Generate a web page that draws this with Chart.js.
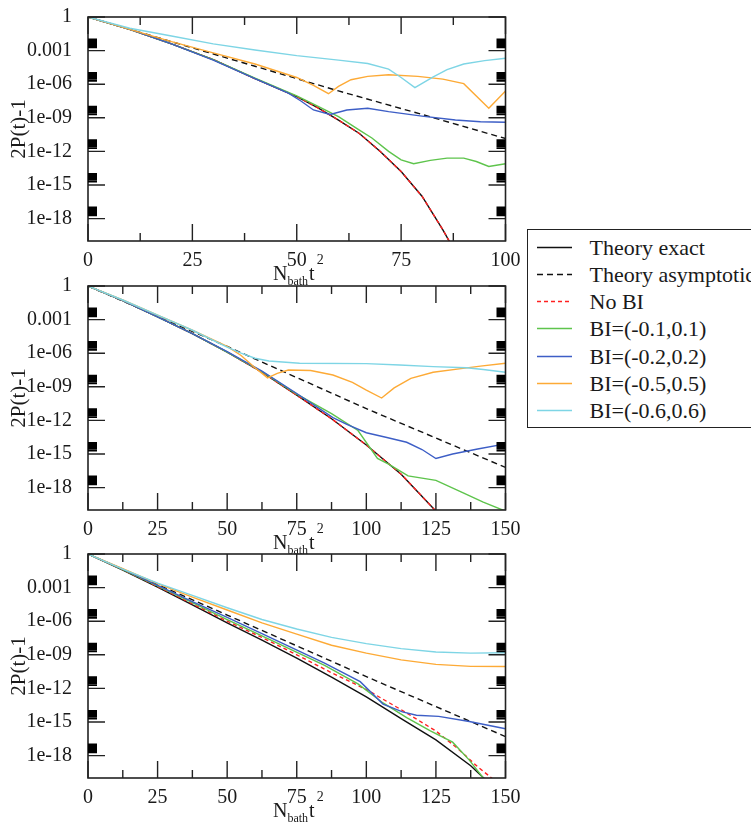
<!DOCTYPE html>
<html><head><meta charset="utf-8">
<script src="https://cdn.jsdelivr.net/npm/chart.js@4.4.0/dist/chart.umd.min.js"></script>
<style>
html,body{margin:0;padding:0;background:#fff;width:751px;height:822px;overflow:hidden;position:relative;}
canvas{position:absolute;left:0;}
#legend{position:absolute;left:527px;top:229px;width:240px;height:199px;border:1.5px solid #222;background:#fff;box-sizing:border-box;}
.row{position:absolute;left:0;height:27px;width:238px;}
.row svg{position:absolute;left:8.5px;top:0;}
.row span{position:absolute;left:61.5px;top:0;font-family:"Liberation Serif","Times New Roman",Times,serif;font-size:22px;line-height:27px;color:#1a1a1a;white-space:nowrap;}
</style></head>
<body>
<canvas id="c1" width="530" height="286" style="top:5px"></canvas>
<canvas id="c2" width="530" height="286" style="top:273.7px"></canvas>
<canvas id="c3" width="530" height="286" style="top:542px"></canvas>
<div id="legend"></div>
<script>
// ---------- data ----------
const SERIES_NAMES = ['Theory exact','Theory asymptotic','No BI','BI=(-0.1,0.1)','BI=(-0.2,0.2)','BI=(-0.5,0.5)','BI=(-0.6,0.6)'];
const Y_TICK_VALUES = [1e-18,1e-15,1e-12,1e-9,1e-6,1e-3,1];
const Y_TICK_LABELS = ['1e-18','1e-15','1e-12','1e-09','1e-06','0.001','1'];
const X_MAX = [100,150,150];

// panel 1
const P1_X_EXACT = [0,10,20,30,40,50,55,60,65,70,75,80,85,88];
const P1_Y_EXACT = [1,7.94e-2,3.98e-3,1.58e-4,3.16e-6,7.94e-8,7.94e-9,6.31e-10,3.98e-11,1e-12,1.58e-14,1e-16,1e-19,1e-21];
const P1_X_ASYM = [0,20,40,60,80,100];
const P1_Y_ASYM = [1,6.31e-3,3.98e-5,2.51e-7,2.0e-9,1.41e-11];
const P1_X_NOBI = [0,10,20,30,40,50,55,60,65,70,75,80,85,88];
const P1_Y_NOBI = [1,7.94e-2,3.98e-3,1.58e-4,3.16e-6,7.94e-8,7.94e-9,6.31e-10,3.98e-11,1e-12,1.58e-14,1e-16,1e-19,1e-21];
const P1_X_G = [0,10,20,30,40,50,55,60,65,68,72,75,78,82,86,90,93,96,100];
const P1_Y_G = [1,7.94e-2,3.98e-3,1.58e-4,3.55e-6,8.91e-8,1.12e-8,1.26e-9,7.94e-11,1.58e-11,1e-12,1.78e-13,7.94e-14,1.58e-13,2.51e-13,2.51e-13,1.26e-13,4.47e-14,7.94e-14];
const P1_X_B = [0,10,20,30,40,48,51,54,58,62,67,72,80,88,94,100];
const P1_Y_B = [1,7.94e-2,3.98e-3,1.41e-4,3.16e-6,1.58e-7,3.16e-8,5.01e-9,2.0e-9,5.01e-9,7.08e-9,3.55e-9,1.41e-9,6.31e-10,4.47e-10,3.98e-10];
const P1_X_O = [0,10,20,30,40,50,54,57.6,60,63,67,72,79,85,90,96,100];
const P1_Y_O = [1,7.94e-2,6.31e-3,6.31e-4,6.31e-5,3.98e-6,7.94e-7,1.41e-7,6.31e-7,2.51e-6,5.01e-6,7.08e-6,5.01e-6,2.82e-6,1.12e-6,7.08e-9,2.51e-7];
const P1_X_C = [0,10,20,30,40,50,60,67,72,75,78.3,82.7,86,90,95,100];
const P1_Y_C = [1,0.1,2.0e-2,3.98e-3,1.12e-3,3.55e-4,1.41e-4,7.08e-5,2.24e-5,3.98e-6,5.01e-7,4.47e-6,2.0e-5,6.31e-5,1.26e-4,2.09e-4];

// panel 2
const P2_X_EXACT = [0,12.5,25,37.5,50,62.5,75,87.5,100,112.5,125,130];
const P2_Y_EXACT = [1,5.01e-2,1.78e-3,5.62e-5,1.26e-6,2.0e-8,1.78e-10,1.41e-12,6.31e-15,1.58e-17,7.94e-21,3.16e-22];
const P2_X_ASYM = [0,50,100,150];
const P2_Y_ASYM = [1,3.98e-6,1.12e-11,6.31e-17];
const P2_X_NOBI = [0,12.5,25,37.5,50,62.5,75,87.5,100,112.5,125,130];
const P2_Y_NOBI = [1,5.01e-2,1.78e-3,5.62e-5,1.26e-6,2.0e-8,1.78e-10,1.41e-12,6.31e-15,1.58e-17,7.94e-21,3.16e-22];
const P2_X_G = [0,12.5,25,37.5,50,62.5,75,87.5,97,104,108,115,125,135,142,150];
const P2_Y_G = [1,5.01e-2,1.78e-3,5.62e-5,1.26e-6,2.24e-8,2.24e-10,3.98e-12,1.26e-13,3.98e-16,1.26e-16,1.12e-17,4.47e-18,3.16e-19,5.01e-20,7.94e-21];
const P2_X_B = [0,12.5,25,37.5,50,62.5,75,88,93,100,107,114.5,120,125,131,140,150];
const P2_Y_B = [1,5.01e-2,1.78e-3,5.62e-5,1.41e-6,2.51e-8,2.51e-10,1.78e-12,4.47e-13,7.94e-14,3.16e-14,1.12e-14,2.51e-15,3.98e-16,1e-15,2.82e-15,7.94e-15];
const P2_X_O = [0,12.5,25,37.5,50,55,60,64.5,68,72,80,88,95,100,105.5,110,116,124,134,141,150];
const P2_Y_O = [1,5.62e-2,2.51e-3,1.12e-4,3.98e-6,6.31e-7,5.01e-8,6.31e-9,1.58e-8,3.16e-8,2.82e-8,1.12e-8,2.51e-9,5.01e-10,1e-10,7.94e-10,5.62e-9,2.0e-8,4.17e-8,7.08e-8,1.26e-7];
const P2_X_C = [0,12.5,25,37.5,50,55,60,65,76,100,112,124,136,142,150];
const P2_Y_C = [1,5.62e-2,2.51e-3,1.12e-4,3.55e-6,1e-6,3.55e-7,2.0e-7,1.26e-7,1.17e-7,8.91e-8,6.31e-8,5.01e-8,3.55e-8,2.0e-8];

// panel 3
const P3_X_EXACT = [0,12.5,25,37.5,50,62.5,75,87.5,100,112.5,125,137.5,143,147];
const P3_Y_EXACT = [1,3.55e-2,1.12e-3,2.82e-5,7.08e-7,2.0e-8,5.01e-10,1e-11,1.78e-13,2.0e-15,2.51e-17,1.26e-19,6.31e-21,1e-21];
const P3_X_ASYM = [0,50,100,150];
const P3_Y_ASYM = [1,3.55e-6,1.12e-11,5.01e-17];
const P3_X_NOBI = [0,12.5,25,37.5,50,62.5,75,87.5,100,112.5,125,133,140,146,150];
const P3_Y_NOBI = [1,3.98e-2,1.26e-3,3.55e-5,1e-6,3.55e-8,1e-9,2.51e-11,7.94e-13,1.26e-14,1.58e-16,3.98e-18,1e-19,6.31e-21,1e-21];
const P3_X_G = [0,12.5,25,37.5,50,62.5,72.6,85,97,106,114.5,123,131,137,142,145];
const P3_Y_G = [1,3.98e-2,1.41e-3,4.47e-5,1.41e-6,5.01e-8,3.16e-9,1.12e-10,2.51e-12,5.01e-14,2.51e-15,1.58e-16,1.58e-17,3.98e-19,1e-20,1e-21];
const P3_X_B = [0,12.5,25,37.5,50,62.5,72.6,85,97.8,106,113,118,126,137,150];
const P3_Y_B = [1,4.47e-2,1.58e-3,5.62e-5,2.24e-6,7.94e-8,5.01e-9,1.78e-10,3.98e-12,3.98e-14,7.94e-15,3.98e-15,3.16e-15,1.12e-15,2.51e-16];
const P3_X_O = [0,12.5,25,37.5,50,62.5,75,87.5,100,112.5,125,137.5,150];
const P3_Y_O = [1,5.01e-2,2.24e-3,1.41e-4,1e-5,7.08e-7,7.08e-8,7.08e-9,1.41e-9,3.55e-10,1.41e-10,9.33e-11,8.91e-11];
const P3_X_C = [0,12.5,25,37.5,50,62.5,75,87.5,100,112.5,125,137.5,150];
const P3_Y_C = [1,4.47e-2,2.51e-3,2.0e-4,1.58e-5,1.41e-6,2.0e-7,3.55e-8,1e-8,3.55e-9,1.78e-9,1.41e-9,1.51e-9];

// ---------- styling ----------
const STYLES = [
  {color:'#111111', dash:[], order:7},
  {color:'#111111', dash:[6,4], order:6},
  {color:'#ff2020', dash:[4,3], order:5},
  {color:'#5ec44c', dash:[], order:4},
  {color:'#3d5ec6', dash:[], order:3},
  {color:'#fdaa36', dash:[], order:2},
  {color:'#7ed5e5', dash:[], order:1}
];
const FONT = '"Liberation Serif", "Times New Roman", Times, serif';
const MINOR_MULTS = [2,3,4,5,6,7,8,9,10];

function pts(xs, ys){ return xs.map((x,i)=>({x:x, y:ys[i]})); }

const framePlugin = {
  id:'frame',
  afterDraw(chart){
    const ctx = chart.ctx, a = chart.chartArea, xs = chart.scales.x, ys = chart.scales.y;
    ctx.save();
    ctx.strokeStyle = '#222';
    ctx.lineWidth = 1.6;
    ctx.strokeRect(a.left, a.top, a.right-a.left, a.bottom-a.top);
    const xt = xs.ticks.map(t=>t.value);
    ctx.lineWidth = 1.4;
    ctx.beginPath();
    xt.forEach((v,i)=>{
      const px = xs.getPixelForValue(v);
      ctx.moveTo(px, a.bottom); ctx.lineTo(px, a.bottom-17);
      ctx.moveTo(px, a.top); ctx.lineTo(px, a.top+17);
      if (i < xt.length-1){
        const pm = xs.getPixelForValue((v+xt[i+1])/2);
        ctx.moveTo(pm, a.bottom); ctx.lineTo(pm, a.bottom-8);
        ctx.moveTo(pm, a.top); ctx.lineTo(pm, a.top+8);
      }
    });
    ys.ticks.forEach(t=>{
      const py = ys.getPixelForValue(t.value);
      ctx.moveTo(a.left, py); ctx.lineTo(a.left+17, py);
      ctx.moveTo(a.right, py); ctx.lineTo(a.right-17, py);
    });
    ctx.stroke();
    ctx.lineWidth = 1.8;
    ctx.strokeStyle = '#000';
    ctx.beginPath();
    ys.ticks.forEach(t=>{
      MINOR_MULTS.forEach(m=>{
        const v = t.value*m;
        if (v >= ys.max) return;
        const py = ys.getPixelForValue(v);
        ctx.moveTo(a.left, py); ctx.lineTo(a.left+9, py);
        ctx.moveTo(a.right, py); ctx.lineTo(a.right-9, py);
      });
    });
    ctx.stroke();
    ctx.fillStyle = '#1a1a1a';
    ctx.save();
    ctx.translate(19, (a.top+a.bottom)/2);
    ctx.rotate(-Math.PI/2);
    ctx.textAlign = 'center'; ctx.textBaseline = 'middle';
    ctx.font = '21px ' + FONT;
    ctx.fillText('2P(t)-1', 0, 0);
    ctx.restore();
    ctx.textAlign = 'left'; ctx.textBaseline = 'alphabetic';
    let x0 = 273;
    ctx.font = '20px ' + FONT;
    ctx.fillText('N', x0, a.bottom+39); x0 += ctx.measureText('N').width;
    ctx.font = '12px ' + FONT;
    ctx.fillText('bath', x0, a.bottom+44); x0 += ctx.measureText('bath').width + 1;
    ctx.font = '20px ' + FONT;
    ctx.fillText('t', x0, a.bottom+39); x0 += ctx.measureText('t').width + 2;
    ctx.font = '14px ' + FONT;
    ctx.fillText('2', x0, a.bottom+23);
    ctx.restore();
  }
};

function makeChart(id, xMax, series){
  const datasets = series.map((s,i)=>({
    label: SERIES_NAMES[i],
    data: pts(s[0], s[1]),
    borderColor: STYLES[i].color,
    borderDash: STYLES[i].dash,
    borderWidth: 1.4,
    order: STYLES[i].order,
    pointRadius: 0,
    tension: 0,
    fill: false
  }));
  return new Chart(document.getElementById(id), {
    type:'line',
    data:{datasets},
    options:{
      responsive:false, animation:false, devicePixelRatio:1,
      layout:{padding:{top:12, right:24.5, left:0, bottom:0}},
      plugins:{legend:{display:false}, tooltip:{enabled:false}},
      scales:{
        x:{type:'linear', min:0, max:xMax,
          grid:{display:false}, border:{display:false},
          ticks:{stepSize:25, autoSkip:false, maxRotation:0, padding:0, color:'#1a1a1a', font:{family:FONT, size:20}},
          afterFit(s){ s.height = 50; s.paddingLeft = 0; s.paddingRight = 0; }
        },
        y:{type:'logarithmic', min:1e-20, max:1,
          grid:{display:false}, border:{display:false},
          afterBuildTicks(s){ s.ticks = Y_TICK_VALUES.map(v=>({value:v})); },
          ticks:{padding:8, color:'#1a1a1a', font:{family:FONT, size:20},
            callback:(v,i)=>Y_TICK_LABELS[i]},
          afterFit(s){ s.width = 88; s.paddingTop = 0; s.paddingBottom = 0; }
        }
      }
    },
    plugins:[framePlugin]
  });
}

makeChart('c1', X_MAX[0], [[P1_X_EXACT,P1_Y_EXACT],[P1_X_ASYM,P1_Y_ASYM],[P1_X_NOBI,P1_Y_NOBI],[P1_X_G,P1_Y_G],[P1_X_B,P1_Y_B],[P1_X_O,P1_Y_O],[P1_X_C,P1_Y_C]]);
makeChart('c2', X_MAX[1], [[P2_X_EXACT,P2_Y_EXACT],[P2_X_ASYM,P2_Y_ASYM],[P2_X_NOBI,P2_Y_NOBI],[P2_X_G,P2_Y_G],[P2_X_B,P2_Y_B],[P2_X_O,P2_Y_O],[P2_X_C,P2_Y_C]]);
makeChart('c3', X_MAX[2], [[P3_X_EXACT,P3_Y_EXACT],[P3_X_ASYM,P3_Y_ASYM],[P3_X_NOBI,P3_Y_NOBI],[P3_X_G,P3_Y_G],[P3_X_B,P3_Y_B],[P3_X_O,P3_Y_O],[P3_X_C,P3_Y_C]]);

const legend = document.getElementById('legend');
SERIES_NAMES.forEach((name,i)=>{
  const row = document.createElement('div');
  row.className = 'row';
  row.style.top = (3.5 + 27.3*i) + 'px';
  const dash = STYLES[i].dash.length ? ' stroke-dasharray="'+STYLES[i].dash.join(',')+'"' : '';
  row.innerHTML = '<svg width="36" height="27"><line x1="0" y1="13.5" x2="35" y2="13.5" stroke="'+STYLES[i].color+'" stroke-width="1.5"'+dash+'/></svg><span>'+name+'</span>';
  legend.appendChild(row);
});
</script>
</body></html>
